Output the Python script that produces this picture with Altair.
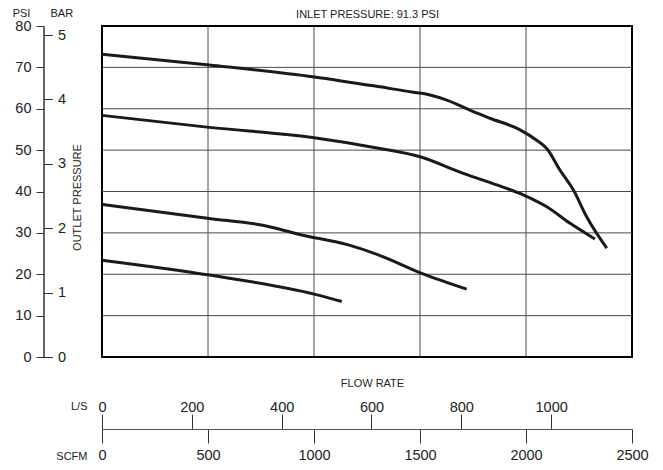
import altair as alt
import pandas as pd

# ---- tick values ----
scfm_ticks = [0, 500, 1000, 1500, 2000, 2500]
ls_ticks = [0, 200, 400, 600, 800, 1000]
psi_ticks = [0, 10, 20, 30, 40, 50, 60, 70, 80]
bar_ticks = [0, 1, 2, 3, 4, 5]

grid_scfm = [500, 1000, 1500, 2000]
grid_psi = [10, 20, 30, 40, 50, 60, 70]

# ---- curves (x in SCFM, y in PSI) ----
c1_scfm = [0, 506, 1001, 1311, 1469, 1516, 1626, 1752, 1830, 1972, 2050, 2098, 2160, 2223, 2286, 2381]
c1_psi = [73.2, 70.6, 67.7, 65.3, 64.0, 63.7, 62.1, 59.3, 57.7, 54.9, 52.4, 50.4, 45.2, 40.4, 33.9, 26.3]

c2_scfm = [0, 506, 1001, 1311, 1500, 1704, 1862, 1987, 2098, 2208, 2325]
c2_psi = [58.4, 55.5, 53.0, 50.4, 48.4, 44.4, 41.6, 39.2, 36.3, 32.3, 28.5]

c3_scfm = [0, 506, 753, 942, 1162, 1303, 1508, 1720]
c3_psi = [36.9, 33.5, 31.9, 29.5, 27.1, 24.7, 20.2, 16.4]

c4_scfm = [0, 506, 1001, 1131]
c4_psi = [23.4, 19.8, 15.2, 13.4]

ls_max = 1180
bar_max = 5.14

inlet_label = "INLET PRESSURE: 91.3 PSI"
flow_label = "FLOW RATE"
outlet_label = "OUTLET PRESSURE"

rows = []
for name, xs, ys in [("c1", c1_scfm, c1_psi), ("c2", c2_scfm, c2_psi),
                     ("c3", c3_scfm, c3_psi), ("c4", c4_scfm, c4_psi)]:
    for i, (xv, yv) in enumerate(zip(xs, ys)):
        rows.append({"curve": name, "scfm": xv, "psi": yv, "i": i})
df = pd.DataFrame(rows)

W, H = 530, 331
x_scale = alt.Scale(domain=[0, 2500], nice=False, zero=False)
y_scale = alt.Scale(domain=[0, 80], nice=False)

x_axis = alt.Axis(orient="bottom", offset=72, values=scfm_ticks, format="d", tickSize=14,
                  labelPadding=16, labelBaseline="alphabetic", labelFlush=False,
                  labelOverlap=False, grid=False, title="SCFM", titleX=-15, titleY=30,
                  titleAlign="right", titleBaseline="alphabetic", domainColor="#555")
y_axis = alt.Axis(orient="left", offset=58.5, values=psi_ticks, format="d", tickSize=7.5,
                  labelPadding=5, labelOverlap=False, grid=False, title="PSI",
                  titleAngle=0, titleX=-22.5, titleY=-9.5, titleAlign="center",
                  titleBaseline="alphabetic")

gv = alt.Chart(pd.DataFrame({"scfm": grid_scfm})).mark_rule(
    color="#4a4a4a", strokeWidth=1).encode(
    x=alt.X("scfm:Q", scale=x_scale, axis=x_axis))
gh = alt.Chart(pd.DataFrame({"psi": grid_psi})).mark_rule(
    color="#4a4a4a", strokeWidth=1).encode(
    y=alt.Y("psi:Q", scale=y_scale, axis=y_axis))

lines = alt.Chart(df).mark_line(color="#1a1a1a", strokeWidth=3,
                                interpolate="monotone").encode(
    x=alt.X("scfm:Q", scale=x_scale, axis=x_axis),
    y=alt.Y("psi:Q", scale=y_scale, axis=y_axis),
    detail="curve:N",
    order="i:Q",
)

main = alt.layer(gv, gh, lines)

axdf = pd.DataFrame({"ls": [0, ls_max], "bar": [0, bar_max]})
axes_layer = alt.Chart(axdf).mark_point(opacity=0).encode(
    x=alt.X("ls:Q", scale=alt.Scale(domain=[0, ls_max], nice=False, zero=False),
            axis=alt.Axis(orient="top", offset=-403, values=ls_ticks, format="d", tickSize=15,
                          labelPadding=2.3, labelBaseline="alphabetic", labelFlush=False,
                          labelOverlap=False, grid=False, title="L/S", titleX=-15,
                          titleY=-20, titleAlign="right", titleBaseline="alphabetic",
                          domainColor="#555")),
    y=alt.Y("bar:Q", scale=alt.Scale(domain=[0, bar_max], nice=False),
            axis=alt.Axis(orient="right", offset=-588.5, values=bar_ticks, format="d", tickSize=9,
                          labelPadding=5, labelOverlap=False, grid=False, title="BAR",
                          titleAngle=0, titleX=6.5, titleY=-9.5, titleAlign="left",
                          titleBaseline="alphabetic")),
)

txt_font = "Liberation Sans"
inlet = alt.Chart(pd.DataFrame({"t": [inlet_label]})).mark_text(
    font=txt_font, fontSize=11, color="#222", align="center", baseline="alphabetic").encode(
    text="t:N", x=alt.value(265.5), y=alt.value(-8.2))
flow = alt.Chart(pd.DataFrame({"t": [flow_label]})).mark_text(
    font=txt_font, fontSize=11, color="#222", align="center", baseline="alphabetic").encode(
    text="t:N", x=alt.value(270.5), y=alt.value(361))
outlet = alt.Chart(pd.DataFrame({"t": [outlet_label]})).mark_text(
    font=txt_font, fontSize=11, color="#222", align="center", baseline="middle",
    angle=270).encode(
    text="t:N", x=alt.value(-24), y=alt.value(171.5))

chart = alt.layer(main, axes_layer, inlet, flow, outlet).resolve_scale(
    x="independent", y="independent"
).properties(
    width=W, height=H,
    autosize=alt.AutoSizeParams(type="none"),
    padding={"left": 94, "top": 18, "right": 23, "bottom": 105},
).configure_axis(
    labelFont="Liberation Sans", titleFont="Liberation Sans",
    labelFontSize=14.5, titleFontSize=11, titleFontWeight="normal",
    labelColor="#222", titleColor="#222", domainColor="#333", tickColor="#333",
).configure_view(stroke="black", strokeWidth=2)

chart.save("out.html", embed_options={"renderer": "svg", "actions": False})
